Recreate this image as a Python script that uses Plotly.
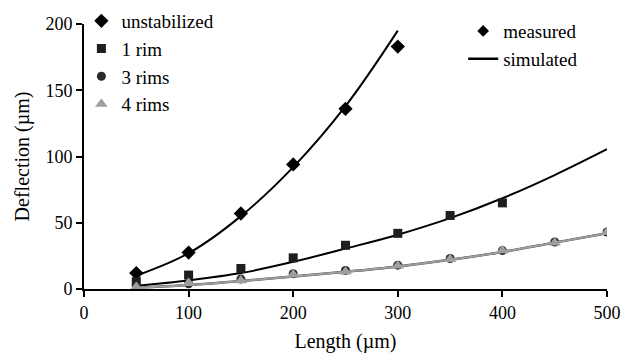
import plotly.graph_objects as go

# Measured data (x in µm, deflection in µm)
x_unstab = [50, 100, 150, 200, 250, 300]
y_unstab = [12, 27.5, 57, 94, 136, 183]
x_rims = [50, 100, 150, 200, 250, 300, 350, 400, 450, 500]
y_1rim = [5.5, 10.5, 15.5, 23.5, 33, 42, 55.5, 65]
y_3rims = [2.5, 4, 7.5, 11.5, 14, 18, 23, 29, 35.5, 43]
y_4rims = [1.5, 4.5, 6.5, 11, 13, 17.5, 22.5, 29, 35, 43]

# Simulated curves
xs_unstab = [50, 100, 150, 200, 250, 300]
ys_unstab = [10, 27, 55, 92, 138, 195]
xs_rims = [50, 100, 150, 200, 250, 300, 350, 400, 450, 500]
ys_1rim = [2.5, 6.5, 12, 20.5, 30.5, 41, 53.5, 68.5, 86, 105.5]
ys_3rims = [1, 3, 6, 9.5, 13, 17, 22, 28, 35, 42]
ys_4rims = [1, 3, 6, 9.5, 13, 17, 22, 28, 35, 42]

FONT = "Liberation Serif"
BLACK = "#000000"
DARK = "#1e1e1e"
DARK2 = "#2a2a2a"
GREY = "#9e9e9e"

fig = go.Figure()

fig.add_trace(go.Scatter(x=xs_unstab, y=ys_unstab, mode="lines", line=dict(color=BLACK, width=2, shape="spline"), showlegend=False))
fig.add_trace(go.Scatter(x=xs_rims, y=ys_1rim, mode="lines", line=dict(color=BLACK, width=2, shape="spline"), showlegend=False))
fig.add_trace(go.Scatter(x=xs_rims, y=ys_3rims, mode="lines", line=dict(color="#444444", width=2.5, shape="spline"), showlegend=False))

fig.add_trace(go.Scatter(x=x_unstab, y=y_unstab, mode="markers", name="unstabilized",
                         marker=dict(symbol="diamond", size=11, color=BLACK),
                         legend="legend", legendgroup="a"))
fig.add_trace(go.Scatter(x=x_rims[:len(y_1rim)], y=y_1rim, mode="markers", name="1 rim",
                         marker=dict(symbol="square", size=9, color=DARK),
                         legend="legend", legendgroup="b"))
fig.add_trace(go.Scatter(x=x_rims, y=y_3rims, mode="markers", name="3 rims",
                         marker=dict(symbol="circle", size=9, color=DARK2),
                         legend="legend", legendgroup="c"))
fig.add_trace(go.Scatter(x=xs_rims, y=ys_4rims, mode="lines", line=dict(color=GREY, width=2, shape="spline"), showlegend=False))
fig.add_trace(go.Scatter(x=x_rims, y=y_4rims, mode="markers", name="4 rims",
                         marker=dict(symbol="triangle-up", size=11, color=GREY),
                         legend="legend", legendgroup="d"))

fig.add_trace(go.Scatter(x=[None], y=[None], mode="markers", name="measured",
                         marker=dict(symbol="diamond", size=9, color=BLACK),
                         legend="legend2", legendgroup="m"))
fig.add_trace(go.Scatter(x=[None], y=[None], mode="lines", name="simulated",
                         line=dict(color=BLACK, width=2.5),
                         legend="legend2", legendgroup="s"))

fig.update_layout(
    width=636, height=356,
    margin=dict(l=84, r=29, t=24, b=67, autoexpand=False),
    plot_bgcolor="white", paper_bgcolor="white",
    font=dict(family=FONT, size=18, color=BLACK),
    legend=dict(x=-0.005, y=1.083, xanchor="left", yanchor="top",
                font=dict(family=FONT, size=19, color=BLACK),
                bgcolor="rgba(0,0,0,0)", traceorder="grouped", tracegroupgap=0,
                itemwidth=30),
    legend2=dict(x=0.725, y=1.045, xanchor="left", yanchor="top",
                 font=dict(family=FONT, size=19, color=BLACK),
                 bgcolor="rgba(0,0,0,0)", traceorder="grouped", tracegroupgap=0,
                 itemwidth=30),
)
fig.update_xaxes(range=[0, 500], tickvals=[0, 100, 200, 300, 400, 500], automargin=False,
                 showgrid=False, zeroline=False, showline=True, linecolor=BLACK, linewidth=2,
                 ticks="outside", ticklen=6, tickwidth=1.5, tickcolor=BLACK,
                 tickfont=dict(family=FONT, size=18),
                 title=dict(text="Length (µm)", font=dict(family=FONT, size=20), standoff=12))
fig.update_yaxes(range=[0, 200], tickvals=[0, 50, 100, 150, 200], automargin=False,
                 showgrid=False, zeroline=False, showline=True, linecolor=BLACK, linewidth=2,
                 ticks="outside", ticklen=6, tickwidth=1.5, tickcolor=BLACK,
                 tickfont=dict(family=FONT, size=18),
                 title=dict(text="Deflection (µm)", font=dict(family=FONT, size=20), standoff=10))

fig.write_html("out.html", config={"displayModeBar": False},
               post_script="document.body.style.margin='0';")
